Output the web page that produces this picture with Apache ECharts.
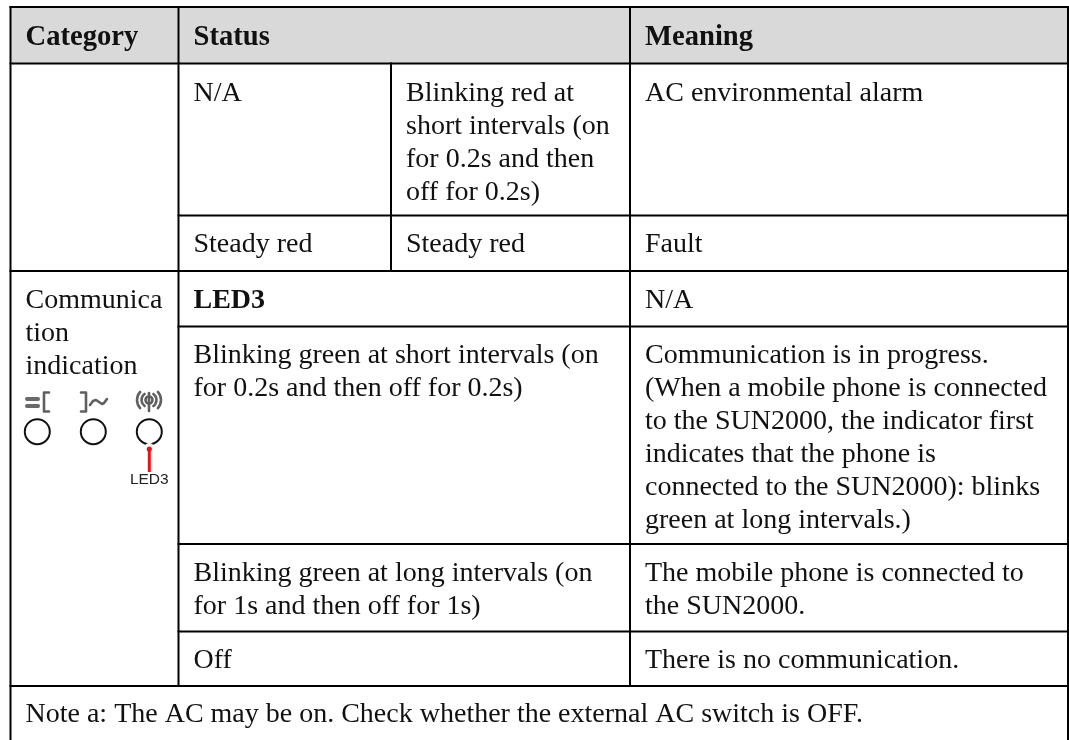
<!DOCTYPE html>
<html>
<head>
<meta charset="utf-8">
<script src="https://cdn.jsdelivr.net/npm/echarts@6/dist/echarts.min.js"></script>
<style>
html, body { margin: 0; padding: 0; background: #fff; }
#table { width: 1069px; height: 740px; }
</style>
</head>
<body>
<div id="table"></div>
<script>
// table content
const headerLabels = ['Category', 'Status', 'Meaning']
const categoryLines = ['Communica', 'tion', 'indication']
const statusLeft = ['N/A', 'Steady red', 'LED3', 'Blinking green at short intervals (on|for 0.2s and then off for 0.2s)', 'Blinking green at long intervals (on|for 1s and then off for 1s)', 'Off']
const statusRight = ['Blinking red at|short intervals (on|for 0.2s and then|off for 0.2s)', 'Steady red']
const meanings = [
    'AC environmental alarm',
    'Fault',
    'N/A',
    'Communication is in progress.|(When a mobile phone is connected|to the SUN2000, the indicator first|indicates that the phone is|connected to the SUN2000): blinks|green at long intervals.)',
    'The mobile phone is connected to|the SUN2000.',
    'There is no communication.'
]
const noteText = 'Note a: The AC may be on. Check whether the external AC switch is OFF.'
const calloutLabel = 'LED3'

// layout of the table, in pixels of the page
const colX = [10.5, 178.5, 391, 630, 1068]
const rowY = [7, 63.5, 215.5, 271, 326.5, 544, 631.5, 686, 740]
const pad = 15
const lineH = 33
const bodyFont = '"Liberation Serif", serif'

const leftFirstY = [94, 245, 301, 356, 573.5, 661]
const rightFirstY = [94, 245]

const hRules = [
    [colX[0], colX[4], rowY[0]],
    [colX[0], colX[4], rowY[1]],
    [colX[1], colX[4], rowY[2]],
    [colX[0], colX[4], rowY[3]],
    [colX[1], colX[4], rowY[4]],
    [colX[1], colX[4], rowY[5]],
    [colX[1], colX[4], rowY[6]],
    [colX[0], colX[4], rowY[7]]
]
const vRules = [
    [colX[0], rowY[0], rowY[8]],
    [colX[1], rowY[0], rowY[7]],
    [colX[2], rowY[1], rowY[3]],
    [colX[3], rowY[0], rowY[7]],
    [colX[4], rowY[0], rowY[8]]
]

// every text line becomes one data row: [x, y, text, bold, size]
const textRows = []
const addCell = (x, y, text, bold, size) => {
    text.split('|').forEach((line, i) => {
        textRows.push([x, y + i * lineH, line, bold ? 1 : 0, size || 28])
    })
}
addCell(colX[0] + pad, 38, headerLabels[0], true, 28.6)
addCell(colX[1] + pad, 38, headerLabels[1], true, 28.6)
addCell(colX[3] + pad, 38, headerLabels[2], true, 28.6)
categoryLines.forEach((t, i) => addCell(colX[0] + pad, 301 + i * lineH, t, false))
statusLeft.forEach((t, i) => addCell(colX[1] + pad, leftFirstY[i], t, t === 'LED3'))
statusRight.forEach((t, i) => addCell(colX[2] + pad, rightFirstY[i], t, false))
meanings.forEach((t, i) => addCell(colX[3] + pad, leftFirstY[i], t, false))
addCell(colX[0] + pad, 715, noteText, false)

const chart = echarts.init(document.getElementById('table'))

// the three little indicator symbols above the circles
const iconCenters = [[37, 402], [93, 402], [149, 401]]
const ledCenters = [[37.3, 431.7], [93.3, 431.7], [149.3, 431.7]]

const renderIcon = (params, api) => {
    const c = api.coord([api.value(0), api.value(1)])
    const stroke = { stroke: '#5f5f5f', fill: 'none', lineWidth: 2.6, lineCap: 'round', lineJoin: 'round' }
    const kind = params.dataIndex
    const at = (dx, dy) => [c[0] + dx, c[1] + dy]
    const poly = pts => ({ type: 'polyline', shape: { points: pts.map(p => at(p[0], p[1])) }, style: stroke })
    const arc = (r, a0, a1) => ({ type: 'arc', shape: { cx: c[0], cy: c[1] - 1, r, startAngle: a0, endAngle: a1, clockwise: true }, style: stroke })
    const children = []
    if (kind === 0) {
        const bar = y => ({ type: 'polyline', shape: { points: [at(-10, y), at(1, y)] }, style: { ...stroke, lineWidth: 4, stroke: '#6a6a6a' } })
        children.push(bar(-3), bar(4))
        children.push(poly([[12, -9.5], [7, -9.5], [7, 9.5], [12, 9.5]]))
    } else if (kind === 1) {
        children.push(poly([[-12, -9.5], [-7, -9.5], [-7, 9.5], [-12, 9.5]]))
        children.push(poly([[-3, 3], [0, -1], [3, -2], [6, 0], [9, 2], [11, 1], [14, -3]]))
    } else {
        children.push(poly([[0, -8], [0, 10]]))
        children.push({ type: 'circle', shape: { cx: c[0], cy: c[1] - 1, r: 3.5 }, style: stroke })
        children.push(arc(7.5, 2.2, 4.08), arc(7.5, -0.94, 0.94))
        children.push(arc(12, 2.4, 3.88), arc(12, -0.74, 0.74))
    }
    return { type: 'group', children }
}

const option = {
    animation: false,
    backgroundColor: '#fff',
    grid: { left: 0, right: 0, top: 0, bottom: 0 },
    xAxis: { type: 'value', min: 0, max: 1069, show: false },
    yAxis: { type: 'value', min: 0, max: 740, inverse: true, show: false },
    series: [
        {
            // grey header band
            type: 'custom',
            coordinateSystem: 'cartesian2d',
            silent: true,
            z: 1,
            data: [[colX[0], rowY[0], colX[4], rowY[1]]],
            renderItem: (params, api) => {
                const a = api.coord([api.value(0), api.value(1)])
                const b = api.coord([api.value(2), api.value(3)])
                return { type: 'rect', shape: { x: a[0], y: a[1], width: b[0] - a[0], height: b[1] - a[1] }, style: { fill: '#d9d9d9' } }
            }
        },
        {
            // horizontal rules
            type: 'custom',
            silent: true,
            z: 2,
            data: hRules,
            renderItem: (params, api) => {
                const a = api.coord([api.value(0), api.value(2)])
                const b = api.coord([api.value(1), api.value(2)])
                return { type: 'line', shape: { x1: a[0] - 1, y1: a[1], x2: b[0] + 1, y2: b[1] }, style: { stroke: '#000', lineWidth: 2 } }
            }
        },
        {
            // vertical rules
            type: 'custom',
            silent: true,
            z: 2,
            data: vRules,
            renderItem: (params, api) => {
                const a = api.coord([api.value(0), api.value(1)])
                const b = api.coord([api.value(0), api.value(2)])
                return { type: 'line', shape: { x1: a[0], y1: a[1] - 1, x2: b[0], y2: b[1] + 1 }, style: { stroke: '#000', lineWidth: 2 } }
            }
        },
        {
            // cell text
            type: 'custom',
            silent: true,
            z: 3,
            dimensions: ['x', 'y', 'text', 'bold', 'size'],
            encode: { x: 0, y: 1 },
            data: textRows,
            renderItem: (params, api) => {
                const row = textRows[params.dataIndex]
                const p = api.coord([row[0], row[1]])
                return {
                    type: 'text',
                    x: p[0],
                    y: p[1],
                    style: {
                        text: row[2],
                        fill: '#111',
                        font: (row[3] ? 'bold ' : '') + row[4] + 'px ' + bodyFont,
                        textAlign: 'left',
                        textVerticalAlign: 'middle'
                    }
                }
            }
        },
        {
            // indicator symbols
            type: 'custom',
            silent: true,
            z: 3,
            data: iconCenters,
            renderItem: renderIcon
        },
        {
            // indicator circles
            type: 'custom',
            silent: true,
            z: 3,
            data: ledCenters,
            renderItem: (params, api) => {
                const c = api.coord([api.value(0), api.value(1)])
                return { type: 'circle', shape: { cx: c[0], cy: c[1], r: 12.5 }, style: { fill: '#fff', stroke: '#111', lineWidth: 2 } }
            }
        },
        {
            // red arrow and LED3 callout
            type: 'custom',
            silent: true,
            z: 4,
            data: [[149.3, 448, 149.3, 472]],
            renderItem: (params, api) => {
                const a = api.coord([api.value(0), api.value(1)])
                const b = api.coord([api.value(2), api.value(3)])
                return {
                    type: 'group',
                    children: [
                        { type: 'circle', shape: { cx: a[0], cy: a[1] - 1, r: 4 }, style: { fill: '#fff' } },
                        { type: 'line', shape: { x1: a[0], y1: a[1], x2: b[0], y2: b[1] }, style: { stroke: '#e5131a', lineWidth: 3 } },
                        { type: 'circle', shape: { cx: a[0], cy: a[1] + 1, r: 2.6 }, style: { fill: '#e5131a' } },
                        { type: 'text', x: b[0], y: b[1] + 7.5, style: { text: calloutLabel, fill: '#222', font: '15.5px "Liberation Sans", sans-serif', textAlign: 'center', textVerticalAlign: 'middle' } }
                    ]
                }
            }
        }
    ]
}
chart.setOption(option)
</script>
</body>
</html>
